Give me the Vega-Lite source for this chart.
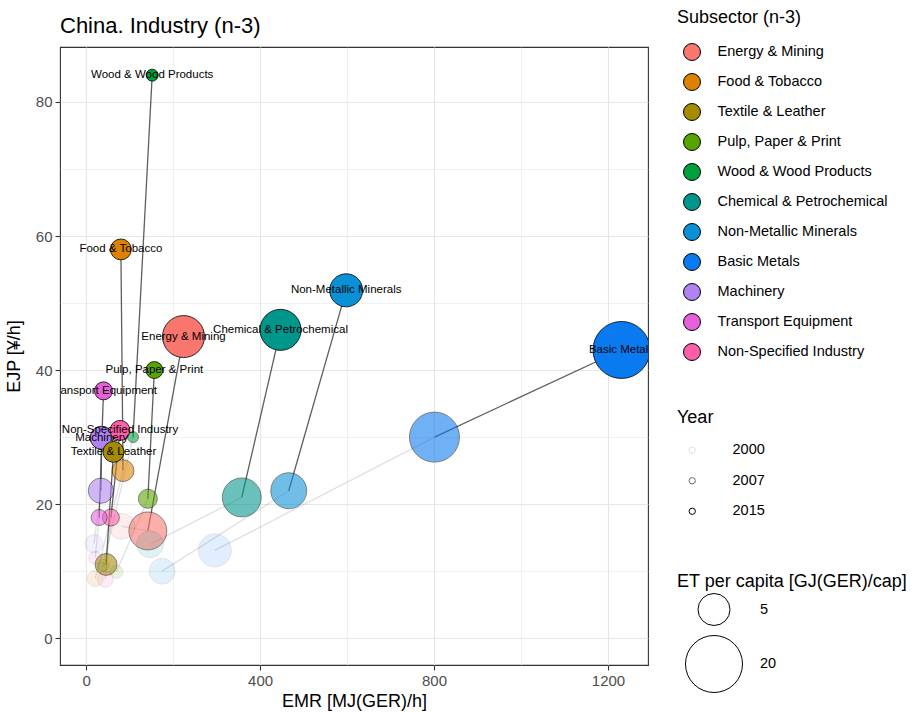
{
  "$schema": "https://vega.github.io/schema/vega-lite/v6.json",
  "autosize": {"type": "none"},
  "padding": {"left": 60, "top": 47, "right": 273, "bottom": 47},
  "width": 588,
  "height": 618,
  "background": "white",
  "title": {
    "text": "China. Industry (n-3)",
    "anchor": "start",
    "frame": "group",
    "fontSize": 22,
    "fontWeight": "normal",
    "color": "black",
    "offset": 9,
    "dy": 38
  },
  "data": {
    "values": [
      {"Subsector": "Energy & Mining", "Year": 2000, "EMR": 82, "EJP": 16.7, "ET": 3.0},
      {"Subsector": "Energy & Mining", "Year": 2007, "EMR": 142, "EJP": 16.0, "ET": 7.5},
      {"Subsector": "Energy & Mining", "Year": 2015, "EMR": 224, "EJP": 45.0, "ET": 9.6},
      {"Subsector": "Food & Tobacco", "Year": 2000, "EMR": 21, "EJP": 8.9, "ET": 0.94},
      {"Subsector": "Food & Tobacco", "Year": 2007, "EMR": 85, "EJP": 25.0, "ET": 2.0},
      {"Subsector": "Food & Tobacco", "Year": 2015, "EMR": 80, "EJP": 58.0, "ET": 1.8},
      {"Subsector": "Textile & Leather", "Year": 2000, "EMR": 40, "EJP": 10.9, "ET": 0.4},
      {"Subsector": "Textile & Leather", "Year": 2007, "EMR": 46, "EJP": 11.0, "ET": 2.0},
      {"Subsector": "Textile & Leather", "Year": 2015, "EMR": 63, "EJP": 27.8, "ET": 1.8},
      {"Subsector": "Pulp, Paper & Print", "Year": 2000, "EMR": 70, "EJP": 9.9, "ET": 0.57},
      {"Subsector": "Pulp, Paper & Print", "Year": 2007, "EMR": 142, "EJP": 20.8, "ET": 1.43},
      {"Subsector": "Pulp, Paper & Print", "Year": 2015, "EMR": 157, "EJP": 40.0, "ET": 1.09},
      {"Subsector": "Wood & Wood Products", "Year": 2000, "EMR": 38, "EJP": 10.6, "ET": 0.24},
      {"Subsector": "Wood & Wood Products", "Year": 2007, "EMR": 108, "EJP": 30.0, "ET": 0.38},
      {"Subsector": "Wood & Wood Products", "Year": 2015, "EMR": 152, "EJP": 84.0, "ET": 0.47},
      {"Subsector": "Chemical & Petrochemical", "Year": 2000, "EMR": 147, "EJP": 14.0, "ET": 3.3},
      {"Subsector": "Chemical & Petrochemical", "Year": 2007, "EMR": 358, "EJP": 21.0, "ET": 8.0},
      {"Subsector": "Chemical & Petrochemical", "Year": 2015, "EMR": 447, "EJP": 46.0, "ET": 9.1},
      {"Subsector": "Non-Metallic Minerals", "Year": 2000, "EMR": 175, "EJP": 10.0, "ET": 3.0},
      {"Subsector": "Non-Metallic Minerals", "Year": 2007, "EMR": 466, "EJP": 22.0, "ET": 6.6},
      {"Subsector": "Non-Metallic Minerals", "Year": 2015, "EMR": 598, "EJP": 51.9, "ET": 5.4},
      {"Subsector": "Basic Metals", "Year": 2000, "EMR": 296, "EJP": 13.1, "ET": 5.4},
      {"Subsector": "Basic Metals", "Year": 2007, "EMR": 801, "EJP": 30.0, "ET": 14.6},
      {"Subsector": "Basic Metals", "Year": 2015, "EMR": 1231, "EJP": 43.0, "ET": 20},
      {"Subsector": "Machinery", "Year": 2000, "EMR": 18, "EJP": 14.1, "ET": 1.25},
      {"Subsector": "Machinery", "Year": 2007, "EMR": 34, "EJP": 22.0, "ET": 2.8},
      {"Subsector": "Machinery", "Year": 2015, "EMR": 36, "EJP": 29.9, "ET": 2.3},
      {"Subsector": "Transport Equipment", "Year": 2000, "EMR": 21, "EJP": 12.0, "ET": 0.57},
      {"Subsector": "Transport Equipment", "Year": 2007, "EMR": 30, "EJP": 18.0, "ET": 0.94},
      {"Subsector": "Transport Equipment", "Year": 2015, "EMR": 40, "EJP": 36.9, "ET": 1.25},
      {"Subsector": "Non-Specified Industry", "Year": 2000, "EMR": 44, "EJP": 8.8, "ET": 0.94},
      {"Subsector": "Non-Specified Industry", "Year": 2007, "EMR": 57, "EJP": 18.0, "ET": 1.09},
      {"Subsector": "Non-Specified Industry", "Year": 2015, "EMR": 78, "EJP": 31.0, "ET": 1.61}
    ]
  },
  "encoding": {
    "x": {
      "field": "EMR",
      "type": "quantitative",
      "title": "EMR [MJ(GER)/h]",
      "scale": {"domain": [-60, 1292], "nice": false, "zero": false},
      "axis": {
        "values": [0, 200, 400, 600, 800, 1000, 1200],
        "format": "d",
        "labelExpr": "datum.value % 400 === 0 ? datum.label : ''",
        "gridWidth": {"condition": {"test": "datum.value % 400 === 0", "value": 1.2}, "value": 0.6},
        "tickOpacity": {"condition": {"test": "datum.value % 400 === 0", "value": 1}, "value": 0}
      }
    },
    "y": {
      "field": "EJP",
      "type": "quantitative",
      "title": "EJP [¥/h]",
      "scale": {"domain": [-4, 88.2], "nice": false, "zero": false},
      "axis": {
        "values": [0, 10, 20, 30, 40, 50, 60, 70, 80],
        "labelExpr": "datum.value % 20 === 0 ? datum.label : ''",
        "gridWidth": {"condition": {"test": "datum.value % 20 === 0", "value": 1.2}, "value": 0.6},
        "tickOpacity": {"condition": {"test": "datum.value % 20 === 0", "value": 1}, "value": 0}
      }
    }
  },
  "layer": [
    {
      "transform": [{"filter": "datum.Year <= 2007"}],
      "mark": {"type": "line", "color": "#555555", "opacity": 0.18, "strokeWidth": 1.3, "clip": true},
      "encoding": {
        "detail": {"field": "Subsector"},
        "order": {"field": "Year", "type": "quantitative"}
      }
    },
    {
      "transform": [{"filter": "datum.Year >= 2007"}],
      "mark": {"type": "line", "color": "#4d4d4d", "opacity": 0.9, "strokeWidth": 1.3, "clip": true},
      "encoding": {
        "detail": {"field": "Subsector"},
        "order": {"field": "Year", "type": "quantitative"}
      }
    },
    {
      "mark": {"type": "point", "shape": "circle", "filled": true, "stroke": "black", "strokeWidth": 0.8, "clip": true},
      "encoding": {
        "color": {
          "field": "Subsector",
          "type": "nominal",
          "scale": {
            "domain": ["Energy & Mining", "Food & Tobacco", "Textile & Leather", "Pulp, Paper & Print", "Wood & Wood Products", "Chemical & Petrochemical", "Non-Metallic Minerals", "Basic Metals", "Machinery", "Transport Equipment", "Non-Specified Industry"],
            "range": ["#F8766D", "#DB8200", "#A68A00", "#57A300", "#00A03D", "#00968C", "#0A90D6", "#0A7AF0", "#B083F2", "#E461DB", "#FF5FAA"]
          },
          "legend": {
            "title": "Subsector (n-3)",
            "orient": "none",
            "legendX": 617,
            "legendY": -38,
            "symbolType": "circle",
            "symbolSize": 289,
            "symbolStrokeColor": "black",
            "symbolStrokeWidth": 1,
            "symbolOpacity": 1,
            "symbolOffset": 6,
            "labelOffset": 16.5,
            "labelLimit": 300,
            "rowPadding": 8,
            "titlePadding": 16
          }
        },
        "opacity": {
          "field": "Year",
          "type": "ordinal",
          "scale": {"type": "ordinal", "domain": [2000, 2007, 2015], "range": [0.12, 0.58, 1]},
          "legend": {
            "title": "Year",
            "orient": "none",
            "legendX": 617,
            "legendY": 362,
            "symbolType": "circle",
            "symbolSize": 40,
            "symbolFillColor": "transparent",
            "symbolStrokeColor": "black",
            "symbolStrokeWidth": 1,
            "symbolOffset": 8,
            "labelOffset": 33,
            "rowPadding": 15.5,
            "titlePadding": 16
          }
        },
        "size": {
          "field": "ET",
          "type": "quantitative",
          "scale": {"type": "pow", "exponent": 0.833, "domain": [0, 20], "range": [0, 3249]},
          "legend": {
            "title": "ET per capita [GJ(GER)/cap]",
            "orient": "none",
            "legendX": 617,
            "legendY": 526,
            "values": [5, 20],
            "symbolType": "circle",
            "symbolFillColor": "transparent",
            "symbolStrokeColor": "black",
            "symbolStrokeWidth": 1,
            "symbolOpacity": 1,
            "symbolOffset": 8,
            "labelOffset": 17,
            "rowPadding": 5,
            "titlePadding": 2
          }
        },
        "order": {"field": "ET", "sort": "descending"}
      }
    },
    {
      "transform": [{"filter": "datum.Year === 2015"}],
      "mark": {"type": "text", "fontSize": 11.5, "color": "black", "align": "center", "baseline": "middle", "clip": true},
      "encoding": {
        "text": {"field": "Subsector"}
      }
    }
  ],
  "config": {
    "font": "Liberation Sans",
    "view": {"stroke": "#333333", "strokeWidth": 1.1},
    "axis": {
      "domain": false,
      "gridColor": "#E6E6E6",
      "tickColor": "#333333",
      "tickSize": 5,
      "tickWidth": 1.1,
      "labelFontSize": 15,
      "labelColor": "#4D4D4D",
      "labelPadding": 3,
      "titleFontSize": 18,
      "titleFontWeight": "normal",
      "titleColor": "black"
    },
    "axisX": {"titlePadding": 4},
    "axisY": {"titlePadding": 12},
    "legend": {
      "titleFontSize": 18,
      "titleFontWeight": "normal",
      "titleColor": "black",
      "labelFontSize": 14.5,
      "labelColor": "black",
      "titleLimit": 400
    }
  }
}
